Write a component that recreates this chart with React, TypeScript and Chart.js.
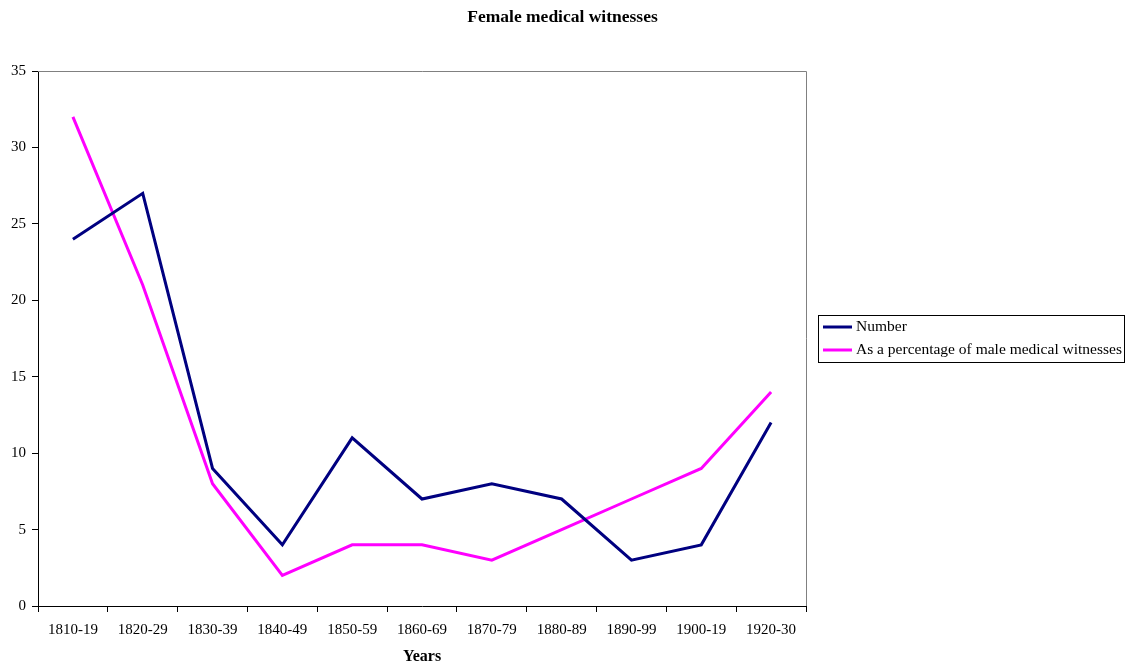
import React, { useEffect, useRef } from "react";
import { Chart, registerables } from "chart.js";

Chart.register(...registerables);

const categories = ["1810-19", "1820-29", "1830-39", "1840-49", "1850-59", "1860-69", "1870-79", "1880-89", "1890-99", "1900-19", "1920-30"];
const numberSeries = [24, 27, 9, 4, 11, 7, 8, 7, 3, 4, 12];
const percentSeries = [32, 21, 8, 2, 4, 4, 3, 5, 7, 9, 14];
const seriesLabels = ["Number", "As a percentage of male medical witnesses"];
const titleText = "Female medical witnesses";
const xTitle = "Years";

const FONT = "'Liberation Serif', 'Times New Roman', serif";

const framePlugin = {
  id: "frameAndLegend",
  beforeDatasetsDraw(chart: any) {
    const { ctx, chartArea } = chart;
    ctx.save();
    ctx.strokeStyle = "#808080";
    ctx.lineWidth = 1;
    ctx.beginPath();
    ctx.moveTo(chartArea.left, chartArea.top + 0.5);
    ctx.lineTo(chartArea.right + 0.5, chartArea.top + 0.5);
    ctx.lineTo(chartArea.right + 0.5, chartArea.bottom);
    ctx.stroke();
    ctx.restore();
  },
  afterDraw(chart: any) {
    const { ctx } = chart;
    ctx.save();
    // title
    ctx.fillStyle = "#000";
    ctx.font = `bold 17.5px ${FONT}`;
    ctx.textAlign = "center";
    ctx.textBaseline = "middle";
    ctx.fillText(titleText, chart.width / 2, 17);
    // legend
    const lx = 818.5, ly = 315.5, lw = 306, lh = 47;
    ctx.strokeStyle = "#000";
    ctx.lineWidth = 1;
    ctx.strokeRect(lx, ly, lw, lh);
    ctx.font = `15.5px ${FONT}`;
    ctx.textAlign = "left";
    chart.data.datasets.forEach((ds: any, i: number) => {
      const y = 327 + i * 23;
      ctx.strokeStyle = ds.borderColor;
      ctx.lineWidth = 3;
      ctx.beginPath();
      ctx.moveTo(823, y);
      ctx.lineTo(852, y);
      ctx.stroke();
      ctx.fillStyle = "#000";
      ctx.fillText(ds.label, 856, y);
    });
    ctx.restore();
  },
};

export default function App() {
  const ref = useRef<HTMLCanvasElement>(null);
  useEffect(() => {
    if (!ref.current) return;
    const chart = new Chart(ref.current, {
      type: "line",
      data: {
        labels: categories,
        datasets: [
          { label: seriesLabels[0], data: numberSeries, borderColor: "#000080", backgroundColor: "#000080", borderWidth: 3, pointRadius: 0, tension: 0 },
          { label: seriesLabels[1], data: percentSeries, borderColor: "#FF00FF", backgroundColor: "#FF00FF", borderWidth: 3, pointRadius: 0, tension: 0 },
        ],
      },
      options: {
        animation: false,
        responsive: false,
        devicePixelRatio: 1,
        layout: { padding: { top: 71, right: 319, left: 0, bottom: 0 } },
        plugins: { legend: { display: false }, title: { display: false }, tooltip: { enabled: false } },
        scales: {
          x: {
            type: "category",
            offset: true,
            grid: { display: true, offset: true, drawOnChartArea: false, drawTicks: true, tickLength: 6, color: "#000" },
            border: { display: true, color: "#000", width: 1 },
            ticks: { color: "#000", font: { family: FONT, size: 15 }, padding: 9, maxRotation: 0, autoSkip: false },
            title: { display: true, text: xTitle, color: "#000", font: { family: FONT, size: 16, weight: "bold" }, padding: { top: 0, bottom: 0 } },
            afterFit: (s: any) => { s.height = 60; },
          },
          y: {
            min: 0,
            max: 35,
            grid: { display: true, drawOnChartArea: false, drawTicks: true, tickLength: 6, color: "#000" },
            border: { display: true, color: "#000", width: 1 },
            ticks: { stepSize: 5, color: "#000", font: { family: FONT, size: 15 }, padding: 6 },
            afterFit: (s: any) => { s.width = 38; },
          },
        },
      },
      plugins: [framePlugin],
    });
    return () => chart.destroy();
  }, []);
  return (
    <div style={{ position: "fixed", left: 0, top: 0, width: 1125, height: 666, background: "#fff" }}>
      <canvas ref={ref} width={1125} height={666} style={{ width: 1125, height: 666 }} />
    </div>
  );
}
